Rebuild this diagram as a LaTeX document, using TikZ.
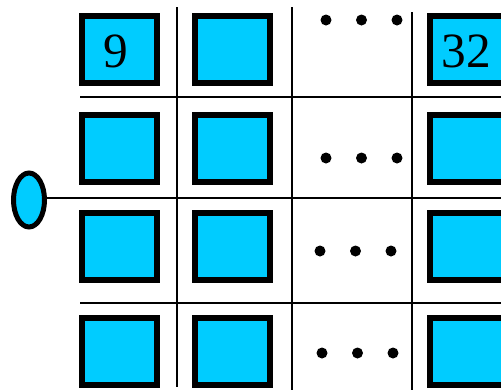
\documentclass[tikz,border=0pt]{standalone}
\usepackage{fontspec}
\setmainfont{Liberation Serif}
\usetikzlibrary{shapes.geometric}
\definecolor{cellblue}{RGB}{0,204,255}
\tikzset{
  cell/.style={draw, line width=4.5pt, fill=cellblue, minimum width=56.25pt,
    minimum height=50.25pt, inner sep=0pt, outer sep=0pt},
  num/.style={font=\fontsize{37}{40}\selectfont},
  gridline/.style={line width=1.5pt},
  dotmark/.style={circle, fill, inner sep=0pt, minimum size=8.25pt}
}

\begin{document}
\begin{tikzpicture}[x=0.75pt,y=-0.75pt]
  \useasboundingbox (0,0) rectangle (501,390);
  \clip (0,0) rectangle (501,390);

  % grid lines
  \coordinate (v1t) at (177,7);   \coordinate (v1b) at (177,387);
  \coordinate (v2t) at (292,7);   \coordinate (v2b) at (292,392);
  \coordinate (v3t) at (412,12);  \coordinate (v3b) at (412,392);
  \coordinate (h1l) at (80,97);   \coordinate (h1r) at (503,97);
  \coordinate (h3l) at (80,303);  \coordinate (h3r) at (503,303);
  \coordinate (h2r) at (503,198);

  \draw[gridline] (v1t) -- (v1b);
  \draw[gridline] (v2t) -- (v2b);
  \draw[gridline] (v3t) -- (v3b);
  \draw[gridline] (h1l) -- (h1r);
  \draw[gridline] (h3l) -- (h3r);

  % input port
  \node[draw, ellipse, line width=3.75pt, fill=cellblue, minimum width=23.25pt,
    minimum height=40.5pt, inner sep=0pt] (port) at (29,200) {};
  \draw[gridline] (port.east |- h2r) -- (h2r);

  % cells
  \foreach \r/\y in {1/49.5,2/148,3/246,4/351.5}
    \foreach \c/\x in {1/119.5,2/232.5,4/467.5}
      \node[cell] (b\r\c) at (\x,\y) {};
  \node[num] (n9) at (116,51) {9};
  \node[num] (n32) at (466,51) {32};

  % dots
  \foreach \r/\x/\y in {1/326/20,2/326/158,3/320/251,4/322/353}
    \foreach \k in {0,1,2}
      \node[dotmark] (d\r\k) at (\x+35.5*\k,\y) {};
\end{tikzpicture}
\end{document}
